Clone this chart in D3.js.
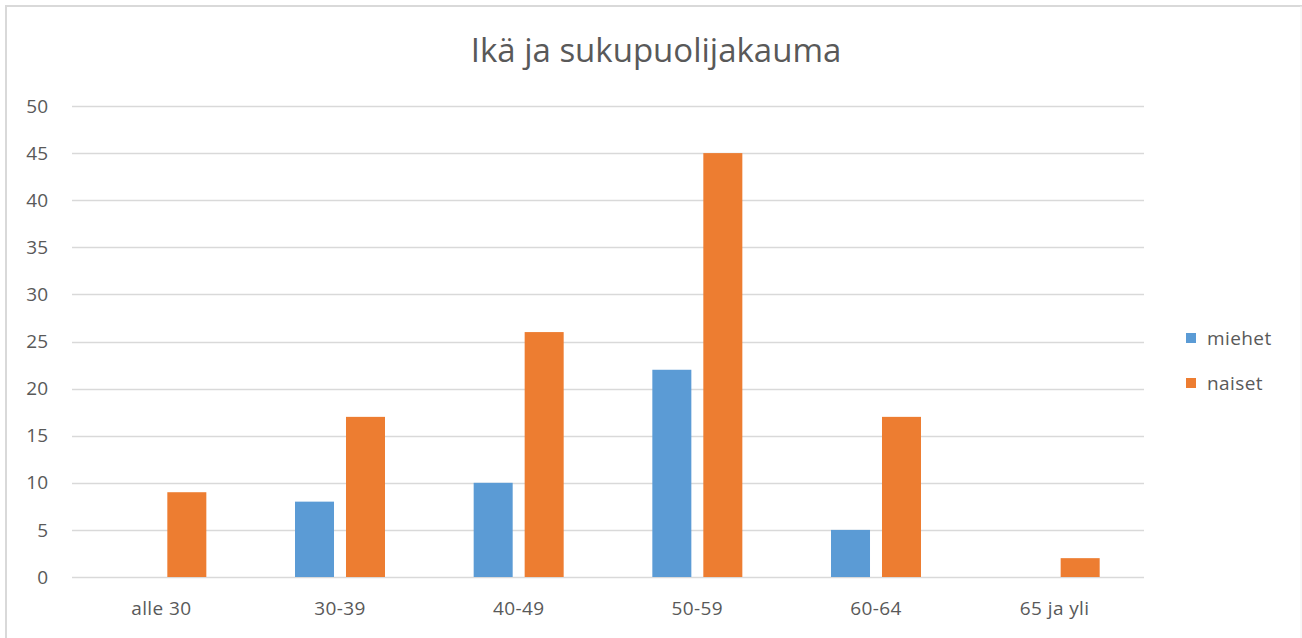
<!DOCTYPE html>
<html>
<head>
<meta charset="utf-8">
<script src="https://cdn.jsdelivr.net/npm/d3@7"></script>
<style>
  body { margin: 0; background: #fff; }
  svg text { font-family: "Open Sans", sans-serif; fill: #595959; }
</style>
</head>
<body>
<script>
var w = 1302;
var h = 638;

var categories = ["alle 30", "30-39", "40-49", "50-59", "60-64", "65 ja yli"];
var series = ["miehet", "naiset"];
var miehet = [0, 8, 10, 22, 5, 0];
var naiset = [9, 17, 26, 45, 17, 2];
var yTicks = [0, 5, 10, 15, 20, 25, 30, 35, 40, 45, 50];
var colors = ["#5B9BD5", "#ED7D31"];

var values = [miehet, naiset];

var svg = d3.select("body")
  .append("svg")
  .attr("width", w)
  .attr("height", h);

// frame of the screenshot
svg.append("path")
  .attr("d", "M6,638 V6 H1302")
  .attr("fill", "none")
  .attr("stroke", "#D9D9D9")
  .attr("stroke-width", 2);
svg.append("line")
  .attr("x1", 1301).attr("x2", 1301)
  .attr("y1", 6).attr("y2", 638)
  .attr("stroke", "#F0F0F0");

var plotLeft = 72, plotRight = 1144, plotTop = 106, plotBottom = 577;

var xScale = d3.scaleBand()
  .domain(categories)
  .range([plotLeft, plotRight])
  .paddingInner(0)
  .paddingOuter(0);

var groupW = 90;
var x1 = d3.scaleBand()
  .domain(series)
  .range([0, groupW])
  .paddingInner(0.235);

var yScale = d3.scaleLinear()
  .domain([0, 50])
  .range([plotBottom, plotTop]);

// gridlines
svg.append("g")
  .selectAll("line")
  .data(yTicks)
  .enter()
  .append("line")
  .attr("x1", plotLeft)
  .attr("x2", plotRight)
  .attr("y1", function(d) { return Math.round(yScale(d)) + 0.5; })
  .attr("y2", function(d) { return Math.round(yScale(d)) + 0.5; })
  .attr("stroke", "#D9D9D9")
  .attr("stroke-width", 1.5);

// y labels
svg.append("g")
  .selectAll("text")
  .data(yTicks)
  .enter()
  .append("text")
  .attr("x", 48)
  .attr("y", function(d) { return yScale(d); })
  .attr("dy", "0.35em")
  .attr("text-anchor", "end")
  .attr("font-size", 19)
  .text(function(d) { return d; });

// bars
series.forEach(function(s, si) {
  svg.append("g")
    .selectAll("rect")
    .data(values[si])
    .enter()
    .append("rect")
    .attr("x", function(d, i) {
      return xScale(categories[i]) + xScale.bandwidth() / 2 - groupW / 2 + x1(s);
    })
    .attr("y", function(d) { return yScale(d); })
    .attr("width", x1.bandwidth())
    .attr("height", function(d) { return plotBottom - yScale(d); })
    .attr("fill", colors[si]);
});

// x labels
svg.append("g")
  .selectAll("text")
  .data(categories)
  .enter()
  .append("text")
  .attr("x", function(d) { return xScale(d) + xScale.bandwidth() / 2; })
  .attr("y", 608)
  .attr("dy", "0.35em")
  .attr("text-anchor", "middle")
  .attr("font-size", 19)
  .attr("letter-spacing", 0.4)
  .text(function(d) { return d; });

// title
svg.append("text")
  .attr("x", 656)
  .attr("y", 50)
  .attr("dy", "0.35em")
  .attr("text-anchor", "middle")
  .attr("font-size", 33)
  .text("Ikä ja sukupuolijakauma");

// legend
var legend = svg.append("g")
  .selectAll("g")
  .data(series)
  .enter()
  .append("g")
  .attr("transform", function(d, i) { return "translate(1186," + (333 + i * 45) + ")"; });

legend.append("rect")
  .attr("width", 10)
  .attr("height", 10)
  .attr("fill", function(d, i) { return colors[i]; });

legend.append("text")
  .attr("x", 21)
  .attr("y", 5)
  .attr("dy", "0.35em")
  .attr("font-size", 19)
  .attr("letter-spacing", 0.4)
  .text(function(d) { return d; });
</script>
</body>
</html>
